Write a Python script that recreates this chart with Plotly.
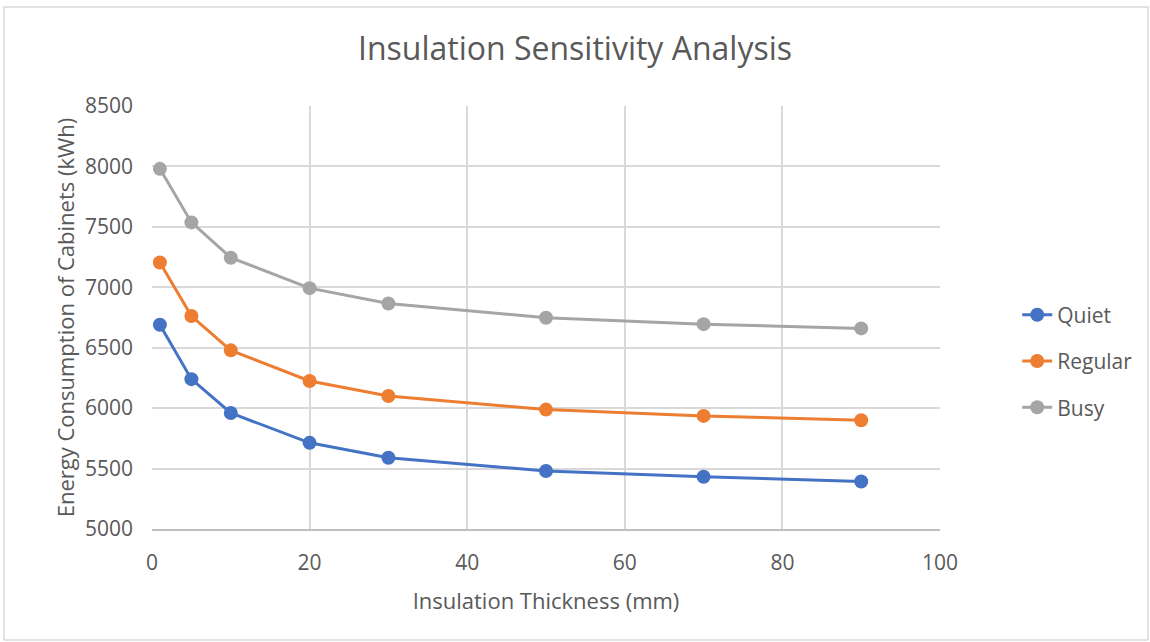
import plotly.graph_objects as go

thickness = [1, 5, 10, 20, 30, 50, 70, 90]
quiet = [6690, 6240, 5960, 5713, 5590, 5480, 5432, 5393]
regular = [7205, 6762, 6478, 6225, 6100, 5988, 5936, 5900]
busy = [7980, 7537, 7245, 6993, 6866, 6748, 6695, 6660]

series = [("Quiet", quiet, "#4472C4"), ("Regular", regular, "#ED7D31"), ("Busy", busy, "#A5A5A5")]

W, H = 1150, 642
L, R, T, B = 152, 210, 106, 113

fig = go.Figure()
for name, vals, col in series:
    fig.add_trace(go.Scatter(x=thickness, y=vals, name=name, mode="lines+markers",
                             legendgroup=name,
                             line=dict(color=col, width=3),
                             marker=dict(color=col, size=14)))

font = "Open Sans, Noto Sans, sans-serif"
fig.update_layout(
    width=W, height=H,
    margin=dict(l=L, r=R, t=T, b=B),
    paper_bgcolor="white", plot_bgcolor="white",
    font=dict(family=font, color="#595959", size=21),
    title=dict(text="Insulation Sensitivity Analysis", x=0.5, xanchor="center",
               y=1 - 49 / H, yanchor="middle", font=dict(size=32, color="#595959")),
    xaxis=dict(range=[0, 100], dtick=20, showgrid=True, gridcolor="#d9d9d9", gridwidth=2,
               zeroline=False, showline=True, linecolor="#bfbfbf", linewidth=2,
               ticks="", tickfont=dict(size=21), ticklabelstandoff=14,
               title=dict(text="Insulation Thickness (mm)", font=dict(size=22), standoff=18)),
    yaxis=dict(range=[5000, 8500], dtick=500, showgrid=True, gridcolor="#d9d9d9", gridwidth=2,
               zeroline=False, showline=False, ticks="", tickfont=dict(size=21),
               ticklabelstandoff=18,
               title=dict(text="Energy Consumption of Cabinets (kWh)", font=dict(size=22), standoff=4)),
    legend=dict(x=1.098, y=0.397, xanchor="left", yanchor="middle", font=dict(size=21),
                tracegroupgap=16, itemwidth=30),
    showlegend=True,
)

# outer chart border
pw = W - L - R
ph = H - T - B
x0 = (4 - L) / pw
x1 = (W - 2 - L) / pw
y1 = (H - 7 - B) / ph
y0 = (H - 640 - B) / ph
fig.add_shape(type="rect", xref="paper", yref="paper", x0=x0, x1=x1, y0=y0, y1=y1,
              line=dict(color="#d9d9d9", width=1.5), layer="below")

fig.write_html("out.html")
